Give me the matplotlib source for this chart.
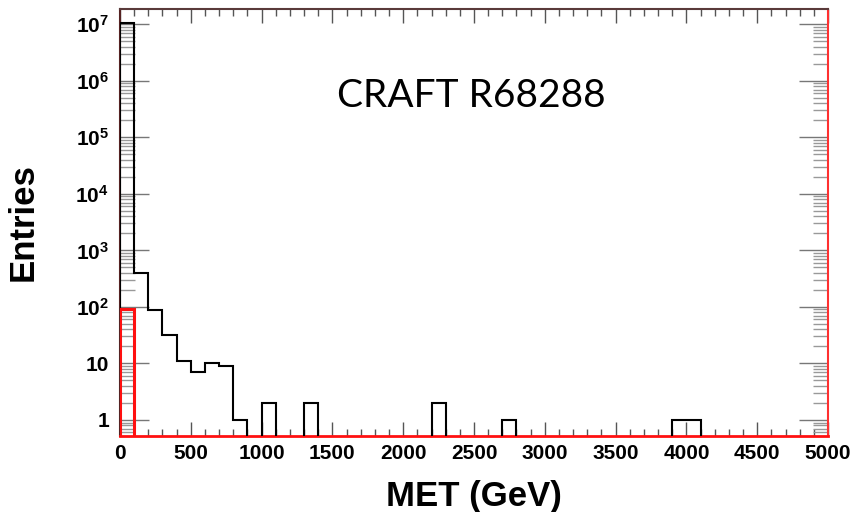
import matplotlib
matplotlib.use("Agg")
import matplotlib.pyplot as plt
import numpy as np
from matplotlib.ticker import FixedLocator, LogLocator, NullFormatter, FixedFormatter

# MET histogram, 50 bins of 100 GeV from 0 to 5000
bin_edges = np.arange(0, 5001, 100)
all_events = np.zeros(50)
all_events[:9] = [1.05e7, 400, 88, 32, 11, 7, 10, 9, 1]
all_events[10] = 2
all_events[13] = 2
all_events[22] = 2
all_events[27] = 1
all_events[39] = 1
all_events[40] = 1

selected_events = np.zeros(50)
selected_events[0] = 90

x_ticks = [0, 500, 1000, 1500, 2000, 2500, 3000, 3500, 4000, 4500, 5000]
y_ticks = [1, 10, 1e2, 1e3, 1e4, 1e5, 1e6, 1e7]
y_labels = ["1", "10", r"$10^{2}$", r"$10^{3}$", r"$10^{4}$", r"$10^{5}$",
            r"$10^{6}$", r"$10^{7}$"]

y_min, y_max = 0.52, 1.86e7

plt.rcParams["font.family"] = ["Liberation Sans", "DejaVu Sans"]
plt.rcParams["font.weight"] = "bold"
plt.rcParams["mathtext.fontset"] = "custom"
plt.rcParams["mathtext.rm"] = "Liberation Sans:bold"
plt.rcParams["mathtext.it"] = "Liberation Sans:bold"
plt.rcParams["mathtext.bf"] = "Liberation Sans:bold"

fig = plt.figure(figsize=(8.52, 5.12), dpi=100)
ax = fig.add_axes([120 / 852, 76 / 512, 708 / 852, 427 / 512])

# empty bins are drawn at the bottom of the frame, as ROOT does
floor = y_min * 0.5
ax.stairs(np.where(all_events > 0, all_events, floor), bin_edges,
          color="black", linewidth=1.5, baseline=floor, zorder=3)
ax.stairs(np.where(selected_events > 0, selected_events, floor), bin_edges,
          color="#ff1010", linewidth=2.2, baseline=floor, zorder=4)

ax.set_yscale("log")
ax.set_xlim(0, 5000)
ax.set_ylim(y_min, y_max)

ax.xaxis.set_major_locator(FixedLocator(x_ticks))
ax.xaxis.set_minor_locator(FixedLocator(np.arange(0, 5001, 100)))
ax.set_xticklabels([str(t) for t in x_ticks])
ax.yaxis.set_major_locator(FixedLocator(y_ticks))
ax.yaxis.set_major_formatter(FixedFormatter(y_labels))
ax.yaxis.set_minor_locator(LogLocator(base=10, subs=np.arange(2, 10), numticks=20))
ax.yaxis.set_minor_formatter(NullFormatter())

ax.tick_params(axis="x", which="major", direction="in", length=10, width=1,
               color="#555555", top=True, labelsize=15, pad=6)
ax.tick_params(axis="x", which="minor", direction="in", length=5, width=1,
               color="#555555", top=True)
ax.tick_params(axis="y", which="major", direction="in", length=21, width=1,
               color="#777777", right=True, labelsize=15, pad=8)
ax.tick_params(axis="y", which="minor", direction="in", length=11, width=1,
               color="#999999", right=True)

ax.spines["left"].set_color("#552222")
ax.spines["top"].set_color("#5a3a3a")
ax.spines["right"].set_color("#ff3030")
ax.spines["bottom"].set_color("#ff1010")
for side in ["left", "top", "right"]:
    ax.spines[side].set_linewidth(1.5)
ax.spines["bottom"].set_linewidth(2)

ax.set_xlabel("MET (GeV)", fontsize=25, fontweight="bold", labelpad=12)
ax.set_ylabel("Entries", fontsize=25, fontweight="bold", labelpad=26)

ax.text(0.306, 0.796, "CRAFT R68288", transform=ax.transAxes, fontsize=28,
        fontweight="normal", family=["Lato", "DejaVu Sans"], ha="left",
        va="center", color="black")

fig.savefig("out.png", dpi=100)
